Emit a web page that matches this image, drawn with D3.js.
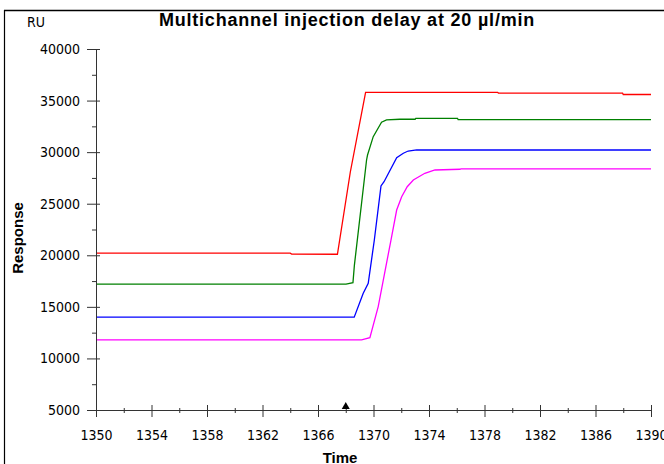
<!DOCTYPE html>
<html>
<head>
<meta charset="utf-8">
<script src="https://cdn.jsdelivr.net/npm/d3@7"></script>
<style>
  html, body { margin: 0; padding: 0; background: #fff; }
  svg { display: block; }
  text { font-family: "Liberation Sans", Arial, sans-serif; fill: #000; }
  .tk { font-family: "DejaVu Sans Condensed", "DejaVu Sans", sans-serif; font-stretch: condensed; }
</style>
</head>
<body>
<svg id="chart" width="664" height="464"></svg>
<script>
// ---- data ----
const timeTicks = [1350, 1354, 1358, 1362, 1366, 1370, 1374, 1378, 1382, 1386, 1390];
const timeMinorTicks = [1352, 1356, 1360, 1364, 1368, 1372, 1376, 1380, 1384, 1388];
const responseTicks = [5000, 10000, 15000, 20000, 25000, 30000, 35000, 40000];
const responseMinorTicks = [7500, 12500, 17500, 22500, 27500, 32500, 37500];
const injectionMark = [1368];

const redTime = [1350, 1364.0, 1364.1, 1367.4, 1368.33, 1369.43, 1378.95, 1379.0, 1387.95, 1388.0, 1390];
const redResp = [20200, 20200, 20120, 20100, 28075, 35800, 35800, 35730, 35730, 35590, 35590];

const greenTime = [1350, 1368.02, 1368.52, 1368.62, 1369.5, 1369.57, 1369.98, 1370.58, 1370.94, 1371.9, 1373.0, 1373.05, 1376.05, 1376.1, 1390];
const greenResp = [17200, 17200, 17350, 19000, 29240, 29720, 31500, 32900, 33120, 33190, 33190, 33280, 33280, 33150, 33150];

const blueTime = [1350, 1368.61, 1369.26, 1369.62, 1370.06, 1370.54, 1370.76, 1371.67, 1372.15, 1372.5, 1373.11, 1390];
const blueResp = [14000, 14000, 16315, 17285, 21480, 26720, 27135, 29460, 29890, 30110, 30210, 30210];

const magentaTime = [1350, 1369.14, 1369.74, 1370.34, 1371.26, 1371.67, 1372.03, 1372.43, 1372.87, 1373.7, 1374.43, 1376.23, 1376.3, 1390];
const magentaResp = [11800, 11800, 12010, 15030, 21480, 24390, 25680, 26650, 27300, 27950, 28270, 28340, 28370, 28370];

const seriesColors = ["#ff0000", "#008000", "#0000ff", "#ff00ff"];

// ---- build ----
const series = [
  { t: redTime, v: redResp },
  { t: greenTime, v: greenResp },
  { t: blueTime, v: blueResp },
  { t: magentaTime, v: magentaResp }
].map((s, i) => ({ color: seriesColors[i], pts: s.t.map((t, j) => [t, s.v[j]]) }));

const svg = d3.select("#chart");
const x = d3.scaleLinear().domain([1350, 1390]).range([96, 651]);
const y = d3.scaleLinear().domain([5000, 40000]).range([410, 49]);

// frame
svg.append("line").attr("x1", 4).attr("x2", 664).attr("y1", 10.5).attr("y2", 10.5)
  .attr("stroke", "#000").attr("stroke-width", 1.5);
svg.append("line").attr("x1", 4.5).attr("x2", 4.5).attr("y1", 10).attr("y2", 464)
  .attr("stroke", "#000").attr("stroke-width", 1.2);

// series lines
const line = d3.line().x(d => x(d[0])).y(d => y(d[1]));
svg.append("g").selectAll("path").data(series).join("path")
  .attr("d", d => line(d.pts))
  .attr("fill", "none")
  .attr("stroke", d => d.color)
  .attr("stroke-width", 1.3);

// x axis
const xAxis = svg.append("g").attr("transform", `translate(0,${y(5000)})`)
  .call(d3.axisBottom(x).tickValues(timeTicks).tickFormat(d3.format("d")).tickSize(7).tickSizeOuter(0).tickPadding(13));
xAxis.select(".domain").attr("stroke", "#333");
xAxis.selectAll(".tick line").attr("y1", -5).attr("stroke", "#333");
xAxis.selectAll(".tick text").attr("class", "tk").attr("font-size", 14).attr("font-family", null);
const xMinor = svg.append("g").attr("transform", `translate(0,${y(5000)})`)
  .call(d3.axisBottom(x).tickValues(timeMinorTicks).tickFormat("").tickSize(3).tickSizeOuter(0));
xMinor.select(".domain").remove();
xMinor.selectAll(".tick line").attr("y1", -2).attr("stroke", "#333");

// y axis
const yAxis = svg.append("g").attr("transform", `translate(${x(1350)},0)`)
  .call(d3.axisLeft(y).tickValues(responseTicks).tickFormat(d3.format("d")).tickSize(9).tickSizeOuter(0).tickPadding(7));
yAxis.select(".domain").attr("stroke", "#333");
yAxis.selectAll(".tick line").attr("x1", 4).attr("stroke", "#333");
yAxis.selectAll(".tick text").attr("class", "tk").attr("font-size", 14).attr("font-family", null);
const yMinor = svg.append("g").attr("transform", `translate(${x(1350)},0)`)
  .call(d3.axisLeft(y).tickValues(responseMinorTicks).tickFormat("").tickSize(4).tickSizeOuter(0));
yMinor.select(".domain").remove();
yMinor.selectAll(".tick line").attr("stroke", "#333");

// injection marker
svg.append("g").selectAll("path").data(injectionMark).join("path")
  .attr("d", d => { const cx = x(d), by = y(5000); return `M${cx - 4},${by - 1}L${cx + 4},${by - 1}L${cx},${by - 8}Z`; })
  .attr("fill", "#000");

// texts
svg.append("text").attr("x", 347).attr("y", 26).attr("text-anchor", "middle")
  .attr("font-size", 18).attr("font-weight", "bold").attr("letter-spacing", 0.8)
  .text("Multichannel injection delay at 20 µl/min");
svg.append("text").attr("class", "tk").attr("x", 27).attr("y", 27).attr("font-size", 14).text("RU");
svg.append("text").attr("transform", "translate(23,238) rotate(-90)").attr("text-anchor", "middle")
  .attr("font-size", 15).attr("font-weight", "bold").text("Response");
svg.append("text").attr("x", 340).attr("y", 463).attr("text-anchor", "middle")
  .attr("font-size", 15).attr("font-weight", "bold").text("Time");
</script>
</body>
</html>
